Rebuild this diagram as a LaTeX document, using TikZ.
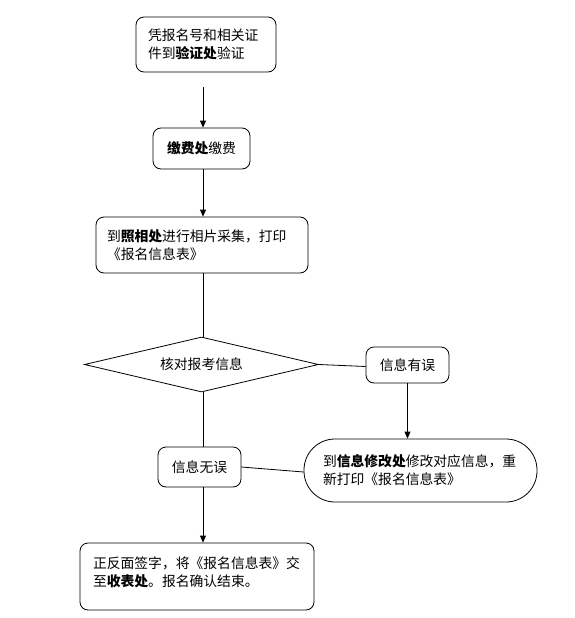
\documentclass[tikz,border=0pt]{standalone}
\usepackage{fontspec}
\setmainfont{Noto Sans CJK SC}
\usetikzlibrary{shapes.geometric,arrows.meta}
\begin{document}
\begin{tikzpicture}[x=1pt,y=-1pt,
  txt/.style={font=\fontsize{13.8}{18}\selectfont},
  box/.style={txt, draw, line width=0.8pt, rounded corners=8pt, inner ysep=0pt},
  lbox/.style={box, align=left},
  cbox/.style={box, align=center, inner xsep=0pt},
  stadium/.style={txt, draw, line width=0.8pt, rounded corners=31pt, inner ysep=0pt, align=left},
  decision/.style={txt, draw, line width=0.8pt, diamond, aspect=4, inner sep=0pt},
  link/.style={line width=0.8pt},
  arr/.style={link, -{Triangle[length=7pt,width=6pt]}}]
\useasboundingbox (0,0) rectangle (574,618);
\fill[white] (0,0) rectangle (574,618);
\coordinate (spine) at (203,0);

\node[lbox, inner xsep=12pt, text width=116pt, minimum height=55pt] (b1) at (206,44.5)
  {凭报名号和相关证\\件到\textbf{验证处}验证};
\node[cbox, minimum width=97pt, minimum height=41pt] (b2) at (201.5,148.5)
  {\textbf{缴费处}缴费};
\node[lbox, inner xsep=11pt, text width=190pt, minimum height=56pt] (b3) at (202,245)
  {到\textbf{照相处}进行相片采集，打印\\《报名信息表》};
\node[decision, minimum width=234pt, minimum height=55pt] (d) at (201.5,364.5)
  {核对报考信息};
\node[cbox, minimum width=83pt, minimum height=36pt] (err) at (407.5,365)
  {信息有误};
\node[stadium, inner xsep=19pt, text width=195pt, minimum height=63pt] (fix) at (420.5,470.5)
  {到\textbf{信息修改处}修改对应信息，重\\新打印《报名信息表》};
\node[cbox, minimum width=83pt, minimum height=40pt] (ok) at (199.5,467)
  {信息无误};
\node[lbox, inner xsep=13pt, text width=208pt, minimum height=67pt] (end) at (197,576.5)
  {正反面签字，将《报名信息表》交\\至\textbf{收表处}。报名确认结束。\\[-8pt]\mbox{}};

\draw[arr] ([yshift=-15pt]b1.south -| spine) -- (b2.north -| spine);
\draw[arr] (b2.south -| spine) -- (b3.north -| spine);
\draw[link] (b3.south -| spine) -- (d.north -| spine);
\draw[link] (d.east) -- ([yshift=-1.5pt]err.west);
\draw[arr] (err.south) -- (err.south |- fix.north);
\draw[link] (d.south -| spine) -- (ok.north -| spine);
\draw[link] ([yshift=-1.5pt]fix.west) -- (ok.east);
\draw[arr] (ok.south -| spine) -- (end.north -| spine);
\end{tikzpicture}
\end{document}
